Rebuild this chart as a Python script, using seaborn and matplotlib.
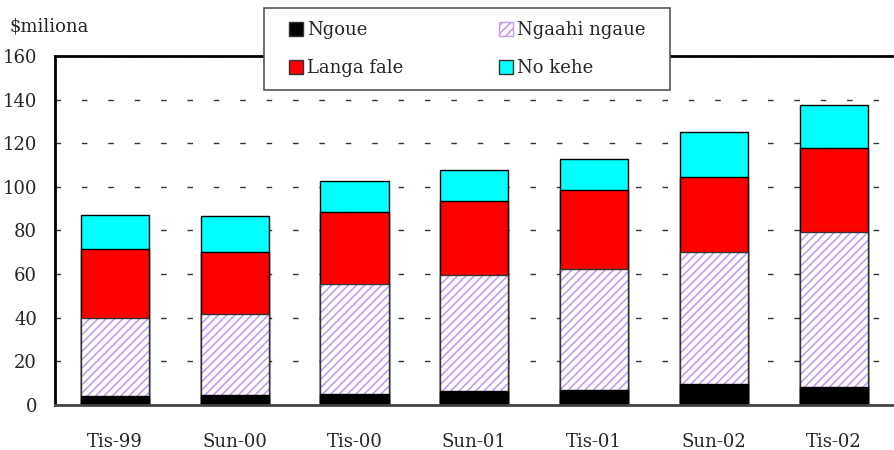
import numpy as np
import pandas as pd
import matplotlib
matplotlib.use('Agg')
import matplotlib.pyplot as plt
import seaborn as sns
from matplotlib.patches import Patch, Rectangle

sns.set_style('white')
plt.rcParams['font.family'] = ['DejaVu Serif']
plt.rcParams['lines.scale_dashes'] = False
plt.rcParams['hatch.linewidth'] = 1.2

# data (segment heights, $ millions)
periods = ['Tis-99', 'Sun-00', 'Tis-00', 'Sun-01', 'Tis-01', 'Sun-02', 'Tis-02']
ngoue = [4.1, 4.8, 4.9, 6.6, 7.0, 9.6, 8.3]
ngaahi_ngaue = [35.9, 36.7, 50.5, 52.9, 55.2, 60.7, 71.2]
langa_fale = [31.3, 28.5, 33.3, 33.9, 36.3, 34.3, 38.3]
no_kehe = [15.7, 16.5, 13.9, 14.3, 14.2, 20.4, 19.8]

df = pd.DataFrame({'period': periods, 'Ngoue': ngoue, 'Ngaahi ngaue': ngaahi_ngaue,
                   'Langa fale': langa_fale, 'No kehe': no_kehe})
df['c1'] = df['Ngoue']
df['c2'] = df['c1'] + df['Ngaahi ngaue']
df['c3'] = df['c2'] + df['Langa fale']
df['c4'] = df['c3'] + df['No kehe']

fig = plt.figure(figsize=(8.95, 4.5), dpi=100)
ax = fig.add_axes([0.0615, 0.1, 0.937, 0.7756])

w = 0.57
bar_kw = dict(width=w, saturation=1, edgecolor='black', linewidth=1, errorbar=None, ax=ax)
# draw cumulative totals back to front
sns.barplot(data=df, x='period', y='c4', color='#00ffff', **bar_kw)
sns.barplot(data=df, x='period', y='c3', color='#ff0000', **bar_kw)
sns.barplot(data=df, x='period', y='c2', color='white', hatch='////',
            width=w, saturation=1, edgecolor='#c39cf2', linewidth=0, errorbar=None, ax=ax)
sns.barplot(data=df, x='period', y='c2', fill=False, width=w, edgecolor='#333333',
            linewidth=1, errorbar=None, ax=ax)
sns.barplot(data=df, x='period', y='c1', color='black', **bar_kw)

ax.set_xlim(-0.5, 6.5)
ax.set_ylim(0, 160)
ax.set_yticks(range(0, 161, 20))
ax.set_xlabel('')
ax.set_ylabel('')
ax.yaxis.grid(True, color='#333333', linestyle=(0, (4, 15)), linewidth=1)
ax.set_axisbelow(True)
ax.tick_params(axis='y', length=0, pad=13, labelsize=13)
ax.tick_params(axis='x', length=0, pad=20, labelsize=13)

for s in ['left', 'top']:
    ax.spines[s].set_color('black')
    ax.spines[s].set_linewidth(2)
ax.spines['bottom'].set_color('#444444')
ax.spines['bottom'].set_linewidth(2)
ax.spines['right'].set_visible(False)

fig.text(10 / 895, 1 - 27 / 450, '$miliona', fontsize=13, va='center', ha='left')

# legend box drawn separately so it can be wider than the legend's own padding
box = Rectangle((264 / 895, 1 - 90 / 450), 406 / 895, 82 / 450, transform=fig.transFigure,
                facecolor='white', edgecolor='#555555', linewidth=1.2, zorder=4)
fig.add_artist(box)

handles = [Patch(facecolor='black', edgecolor='#333333', label='Ngoue'),
           Patch(facecolor='#ff0000', edgecolor='#333333', label='Langa fale'),
           Patch(facecolor='white', edgecolor='#c39cf2', hatch='////', label='Ngaahi ngaue'),
           Patch(facecolor='#00ffff', edgecolor='#333333', label='No kehe')]
leg = fig.legend(handles=handles, ncol=2, loc='center',
                 bbox_to_anchor=(467 / 895, 1 - 49 / 450), fontsize=13,
                 frameon=False, handlelength=0.8, handleheight=0.8, handletextpad=0.2,
                 columnspacing=5.3, labelspacing=1.1, borderpad=0.5)
leg.set_zorder(5)

fig.savefig('out.png', dpi=100)
